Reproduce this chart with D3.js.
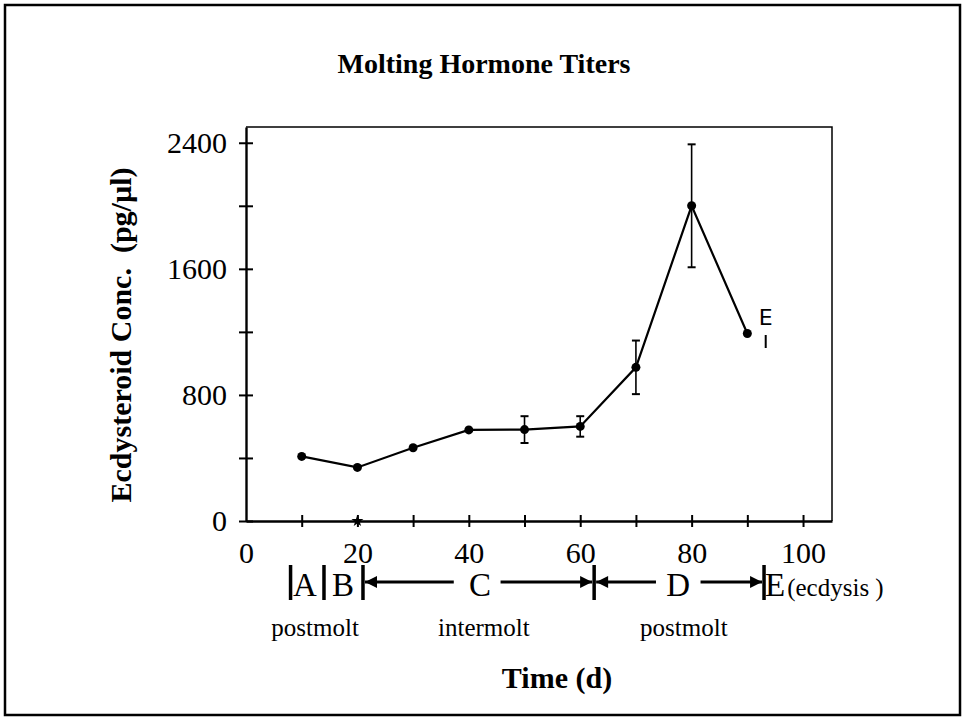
<!DOCTYPE html>
<html>
<head>
<meta charset="utf-8">
<script src="https://cdn.jsdelivr.net/npm/d3@7"></script>
<style>
body { margin: 0; background: #fff; }
text { font-family: "Liberation Serif", "Times New Roman", serif; fill: #000; }
</style>
</head>
<body>
<script>

// data
var days = [10, 20, 30, 40, 50, 60, 70, 80, 90];
var titers = [410, 340, 465, 578, 580, 600, 975, 2000, 1190];
var errors = [0, 0, 0, 0, 85, 65, 170, 390, 0];

var yTicks = [0, 400, 800, 1200, 1600, 2000, 2400];
var yLabels = [0, 800, 1600, 2400];
var xTicks = [0, 10, 20, 30, 40, 50, 60, 70, 80, 90, 100];
var xLabels = [0, 20, 40, 60, 80, 100];

// molt stages drawn under the axis (in days)
var stageBars = [8, 14, 21, 62.5, 93];
var stageLetters = ["A", "B", "C", "D"];
var stageLetterX = [10.6, 17.4, 42, 77.6];
var arrowLeft = [[37.3, 21], [73.6, 62.5]];   // [from, to]
var arrowRight = [[45.7, 62.5], [81.6, 93]];
var phaseNames = ["postmolt", "intermolt", "postmolt"];
var phaseX = [12.4, 42.7, 78.6];

var w = 967, h = 725;

var svg = d3.select("body")
    .append("svg")
    .attr("width", w)
    .attr("height", h);

svg.append("defs").append("marker")
    .attr("id", "head")
    .attr("viewBox", "0 0 10 10")
    .attr("refX", 10).attr("refY", 5)
    .attr("markerWidth", 4.5).attr("markerHeight", 4)
    .attr("markerUnits", "strokeWidth")
    .attr("orient", "auto")
    .append("path")
    .attr("d", "M0,0L10,5L0,10Z")
    .attr("fill", "#000");

// outer frame
svg.append("rect")
    .attr("x", 5).attr("y", 5)
    .attr("width", 955).attr("height", 710)
    .attr("fill", "none")
    .attr("stroke", "#000")
    .attr("stroke-width", 2.5);

var xScale = d3.scaleLinear().domain([0, 105.2]).range([246, 832]);
var yScale = d3.scaleLinear().domain([0, 2500]).range([521, 127]);

// plot box (top and right sides)
svg.append("path")
    .attr("d", "M" + xScale(0) + "," + yScale(2500) + "H" + xScale(105.2) + "V" + yScale(0))
    .attr("fill", "none")
    .attr("stroke", "#000")
    .attr("stroke-width", 1.5);

// title
svg.append("text")
    .attr("x", 484).attr("y", 73)
    .attr("text-anchor", "middle")
    .style("font-size", "28px")
    .style("font-weight", "bold")
    .text("Molting Hormone Titers");

// Y axis
var yAxis = d3.axisLeft(yScale)
    .tickValues(yTicks)
    .tickSize(7)
    .tickSizeOuter(0)
    .tickPadding(12)
    .tickFormat(function (d) { return yLabels.indexOf(d) >= 0 ? d : ""; });

var gy = svg.append("g")
    .attr("transform", "translate(" + xScale(0) + ",0)")
    .call(yAxis);
gy.select(".domain").attr("stroke-width", 2.4);
gy.selectAll(".tick line").attr("x1", 7).attr("stroke-width", 2);
gy.selectAll(".tick text")
    .style("font-family", "'Liberation Serif', 'Times New Roman', serif")
    .style("font-size", "30px");

// X axis
var xAxis = d3.axisBottom(xScale)
    .tickValues(xTicks)
    .tickSize(6)
    .tickSizeOuter(0)
    .tickPadding(15)
    .tickFormat(function (d) { return xLabels.indexOf(d) >= 0 ? d : ""; });

var gx = svg.append("g")
    .attr("transform", "translate(0," + yScale(0) + ")")
    .call(xAxis);
gx.select(".domain").attr("stroke-width", 2.4);
gx.selectAll(".tick line")
    .attr("y1", -6)
    .attr("stroke-width", 2)
    .attr("display", function (d) { return d === 0 ? "none" : null; });
gx.selectAll(".tick text")
    .style("font-family", "'Liberation Serif', 'Times New Roman', serif")
    .style("font-size", "30px");

// small blot on the axis at day 20
svg.append("path")
    .attr("d", d3.symbol().type(d3.symbolStar).size(45)())
    .attr("transform", "translate(" + xScale(20) + "," + yScale(0) + ")")
    .attr("fill", "#000");

// axis titles
svg.append("text")
    .attr("transform", "translate(131,335) rotate(-90)")
    .attr("text-anchor", "middle")
    .style("font-size", "30px")
    .style("font-weight", "bold")
    .attr("xml:space", "preserve")
    .text("Ecdysteroid Conc.  (pg/\u00b5l)");

svg.append("text")
    .attr("x", 557).attr("y", 688)
    .attr("text-anchor", "middle")
    .style("font-size", "30px")
    .style("font-weight", "bold")
    .text("Time (d)");

// line and points
var pts = days.map(function (d, i) { return { day: d, v: titers[i], e: errors[i] }; });

var line = d3.line()
    .x(function (d) { return xScale(d.day); })
    .y(function (d) { return yScale(d.v); });

svg.append("path")
    .datum(pts)
    .attr("d", line)
    .attr("fill", "none")
    .attr("stroke", "#000")
    .attr("stroke-width", 2.2);

var eb = svg.selectAll(".err")
    .data(pts.filter(function (d) { return d.e > 0; }))
    .enter()
    .append("g")
    .attr("class", "err")
    .attr("stroke", "#000")
    .attr("stroke-width", 1.6);

eb.append("line")
    .attr("x1", function (d) { return xScale(d.day); })
    .attr("x2", function (d) { return xScale(d.day); })
    .attr("y1", function (d) { return yScale(d.v + d.e); })
    .attr("y2", function (d) { return yScale(d.v - d.e); });

[1, -1].forEach(function (s) {
    eb.append("line")
        .attr("x1", function (d) { return xScale(d.day) - 4; })
        .attr("x2", function (d) { return xScale(d.day) + 4; })
        .attr("y1", function (d) { return yScale(d.v + s * d.e); })
        .attr("y2", function (d) { return yScale(d.v + s * d.e); })
        .attr("stroke-width", 2);
});

svg.selectAll(".pt")
    .data(pts)
    .enter()
    .append("circle")
    .attr("class", "pt")
    .attr("cx", function (d) { return xScale(d.day); })
    .attr("cy", function (d) { return yScale(d.v); })
    .attr("r", 4.5)
    .attr("fill", "#000");

// hand-written "E" (ecdysis) mark next to the last point
svg.append("text")
    .attr("x", xScale(93.3)).attr("y", 325)
    .attr("text-anchor", "middle")
    .style("font-family", "'DejaVu Sans', sans-serif")
    .style("font-size", "22px")
    .text("E");
svg.append("line")
    .attr("x1", xScale(93.3)).attr("x2", xScale(93.3))
    .attr("y1", 335).attr("y2", 348)
    .attr("stroke", "#000")
    .attr("stroke-width", 2);

// molt stage row
var stage = svg.append("g");

stage.selectAll(".bar")
    .data(stageBars)
    .enter()
    .append("line")
    .attr("x1", function (d) { return xScale(d); })
    .attr("x2", function (d) { return xScale(d); })
    .attr("y1", 565).attr("y2", 600)
    .attr("stroke", "#000")
    .attr("stroke-width", 3.5);

stage.selectAll(".letter")
    .data(stageLetters)
    .enter()
    .append("text")
    .attr("x", function (d, i) { return xScale(stageLetterX[i]); })
    .attr("y", 596)
    .attr("text-anchor", "middle")
    .style("font-size", "33px")
    .text(function (d) { return d; });

var lastBar = xScale(stageBars[stageBars.length - 1]);
var eText = stage.append("text")
    .attr("x", lastBar + 1)
    .attr("y", 596);
eText.append("tspan").style("font-size", "33px").text("E");
eText.append("tspan").style("font-size", "25px").attr("dx", 2).text("(ecdysis )");

stage.selectAll(".arrow")
    .data(arrowLeft.concat(arrowRight))
    .enter()
    .append("line")
    .attr("x1", function (d) { return xScale(d[0]); })
    .attr("x2", function (d) { return xScale(d[1]) + (d[1] > d[0] ? -2 : 2); })
    .attr("y1", 582).attr("y2", 582)
    .attr("stroke", "#000")
    .attr("stroke-width", 3)
    .attr("marker-end", "url(#head)");

stage.selectAll(".phase")
    .data(phaseNames)
    .enter()
    .append("text")
    .attr("x", function (d, i) { return xScale(phaseX[i]); })
    .attr("y", 636)
    .attr("text-anchor", "middle")
    .style("font-size", "25px")
    .text(function (d) { return d; });

</script>
</body>
</html>
